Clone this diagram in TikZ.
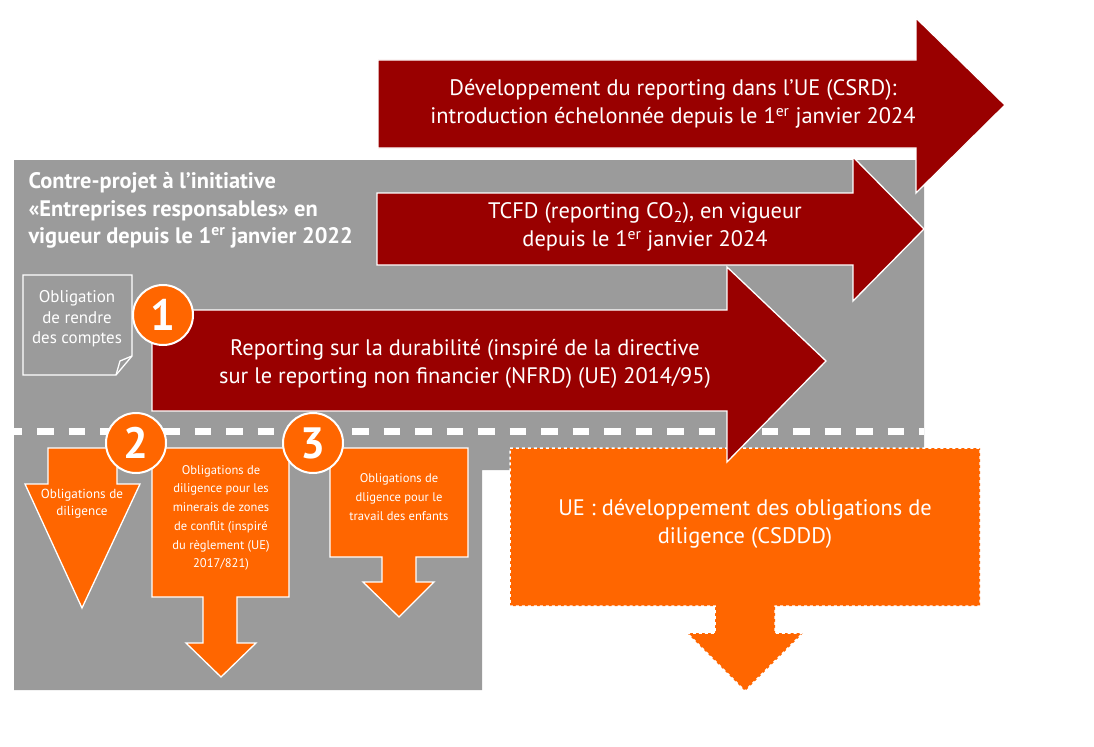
\documentclass[tikz,border=0pt]{standalone}
\usepackage{fontspec}
\setmainfont{PT Sans}
\usetikzlibrary{calc, positioning}
\definecolor{darkred}{HTML}{990000}
\definecolor{orng}{HTML}{FF6600}
\definecolor{greybg}{HTML}{9B9B9B}

\begin{document}
\begin{tikzpicture}[x=1bp, y=-1bp,
  redarrow/.style={fill=darkred, draw=white, line width=1.3bp},
  orgarrow/.style={fill=orng, draw=white, line width=1.3bp},
  bigtxt/.style={text=white, align=center, font=\fontsize{22.5}{28}\selectfont},
  smalltxt/.style={text=white, align=center, font=\fontsize{12.6}{18.8}\selectfont},
  numcircle/.style={circle, fill=orng, draw=white, line width=2bp, minimum size=60bp, inner sep=0pt, text=white, font=\bfseries\fontsize{44}{44}\selectfont}]
\useasboundingbox (0,0) rectangle (1094,747);
% grey area
\fill[greybg] (14,160) -- (924,160) -- (924,470) -- (482,470) -- (482,690) -- (14,690) -- cycle;
\draw[white, line width=7bp, dash pattern=on 16.5bp off 15bp, dash phase=8.5bp] (14,431) -- (924,431);
% EU arrows
\draw[redarrow] (378,60) -- (916,60) -- (916,18) -- (1005,105) -- (916,193) -- (916,148) -- (378,148) -- cycle;
\node[bigtxt] (csrd) at (673,104) {Développement du reporting dans l'UE (CSRD):\\introduction échelonnée depuis le 1\textsuperscript{er} janvier 2024};
\draw[redarrow] (377,193) -- (853,193) -- (853,157) -- (924,229) -- (853,301) -- (853,265) -- (377,265) -- cycle;
\node[bigtxt] (tcfd) at (645,227) {TCFD (reporting CO\textsubscript{2}), en vigueur\\depuis le 1\textsuperscript{er} janvier 2024};
% CSDDD box
\draw[orgarrow, dashed, line width=1.5bp] (510,448) -- (980,448) -- (980,606) -- (775,606) -- (775,633) -- (803,633) -- (745,691) -- (687,633) -- (715,633) -- (715,606) -- (510,606) -- cycle;
\node[bigtxt] (csddd) at (745,524) {UE : développement des obligations de\\diligence (CSDDD)};
% reporting arrow 1
\draw[redarrow] (152,310) -- (727,310) -- (727,267) -- (826,361) -- (727,462) -- (727,411) -- (152,411) -- cycle;
\node[bigtxt] (nfrd) at (465,364) {Reporting sur la durabilité (inspiré de la directive\\sur le reporting non financier (NFRD) (UE) 2014/95)};
% title and note
\node[text=white, align=left, anchor=north west, font=\bfseries\fontsize{22.5}{27.5}\selectfont] (title) at (25,169) {Contre-projet à l’initiative\\«Entreprises responsables» en\\vigueur depuis le 1\textsuperscript{er} janvier 2022};
\draw[white, line width=1.3bp, fill=greybg] (23,275) -- (132,275) -- (132,356) -- (116,375) -- (23,375) -- cycle;
\draw[white, line width=1.3bp] (132,356) -- (120,361) -- (116,375);
\node[text=white, align=center, font=\fontsize{17}{20.5}\selectfont] (note) at (77,319) {Obligation\\de rendre\\des comptes};
% diligence arrows
\draw[orgarrow] (48,448) -- (117,448) -- (117,484) -- (140,484) -- (82,608) -- (25,484) -- (48,484) -- cycle;
\node[smalltxt, font=\fontsize{13.2}{17}\selectfont] (dilA) at (82,504) {Obligations de\\diligence};
\draw[orgarrow] (152,448) -- (289,448) -- (289,597) -- (237,597) -- (237,643) -- (256,643) -- (221,677) -- (186,643) -- (203,643) -- (203,597) -- (152,597) -- cycle;
\node[smalltxt] (dilB) at (221,518) {Obligations de\\diligence pour les\\minerais de zones\\de conflit (inspiré\\du règlement (UE)\\2017/821)};
\draw[orgarrow] (330,448) -- (468,448) -- (468,557) -- (416,557) -- (416,582) -- (434,582) -- (399,617) -- (363,582) -- (382,582) -- (382,557) -- (330,557) -- cycle;
\node[smalltxt] (dilC) at (399,497) {Obligations de\\dligence pour le\\travail des enfants};
% numbers
\node[numcircle] (n1) at (163,315) {1};
\node[numcircle] (n2) at (136,443) {2};
\node[numcircle] (n3) at (313,443) {3};
\end{tikzpicture}
\end{document}
